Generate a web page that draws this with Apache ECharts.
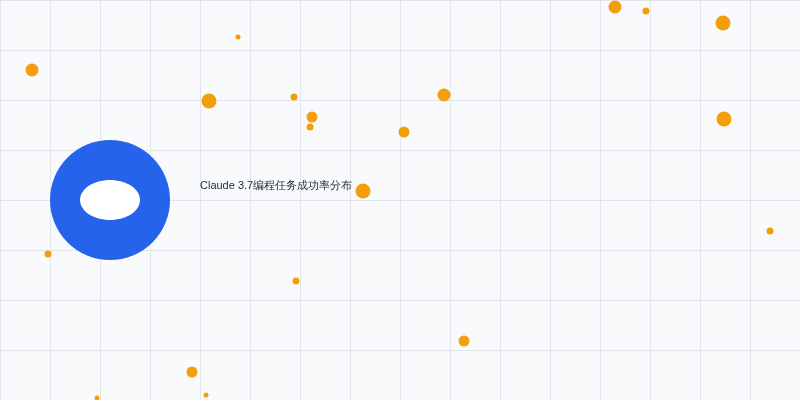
<!DOCTYPE html>
<html>
<head>
<meta charset="utf-8">
<script src="https://cdn.jsdelivr.net/npm/echarts@6/dist/echarts.min.js"></script>
<style>html,body{margin:0;padding:0;background:#f8fafc;}#c{width:800px;height:400px;}</style>
</head>
<body>
<div id="c"></div>
<script>
var xValues = [12.3, 12.92, 14.46, 14.48, 4.76, 4.18, 5.88, 6.24, 6.2, 8.08, 8.88, 7.26, 0.64, 0.96, 5.92, 3.84, 4.12, 1.94, 15.4, 9.28];
var yValues = [7.86, 7.78, 7.54, 5.62, 7.26, 5.98, 6.06, 5.66, 5.46, 5.36, 6.1, 4.18, 6.6, 2.92, 2.38, 0.56, 0.1, 0.04, 3.38, 1.18];
var sizes   = [13, 7, 15, 15, 5, 15, 7, 11, 7, 11, 13, 15, 13, 7, 7, 11, 5, 5, 7, 11];
var pieValues = [1];
var titleText = 'Claude 3.7编程任务成功率分布';

var points = xValues.map(function (x, i) { return [x, yValues[i], sizes[i]]; });

var chart = echarts.init(document.getElementById('c'));
chart.setOption({
  backgroundColor: '#f8fafc',
  animation: false,
  title: {
    text: titleText,
    left: 200, top: 180, padding: 0,
    textStyle: { fontSize: 11, fontWeight: 'normal', color: '#1f2937', fontFamily: 'Liberation Sans, Arial, sans-serif' }
  },
  grid: { left: 0, right: 0, top: 0, bottom: 0, containLabel: false },
  xAxis: {
    type: 'value', min: 0, max: 16, interval: 1,
    axisLine: { show: false }, axisTick: { show: false }, axisLabel: { show: false },
    splitLine: { show: true, lineStyle: { color: '#e2e5ea', width: 1 } }
  },
  yAxis: {
    type: 'value', min: 0, max: 8, interval: 1,
    axisLine: { show: false }, axisTick: { show: false }, axisLabel: { show: false },
    splitLine: { show: true, lineStyle: { color: '#e2e5ea', width: 1 } }
  },
  series: [
    {
      type: 'scatter',
      data: points,
      symbolSize: function (d) { return d[2]; },
      itemStyle: { color: '#f59e0b', opacity: 1 }
    },
    {
      type: 'pie',
      center: [110, 200],
      radius: [0, 60],
      silent: true,
      label: { show: false },
      labelLine: { show: false },
      itemStyle: { color: '#2563eb' },
      data: pieValues.map(function (v) { return { value: v }; })
    }
  ],
  graphic: [
    { type: 'ellipse', z: 100, shape: { cx: 110, cy: 200, rx: 30, ry: 20 }, style: { fill: '#ffffff' } }
  ]
});
</script>
</body>
</html>
